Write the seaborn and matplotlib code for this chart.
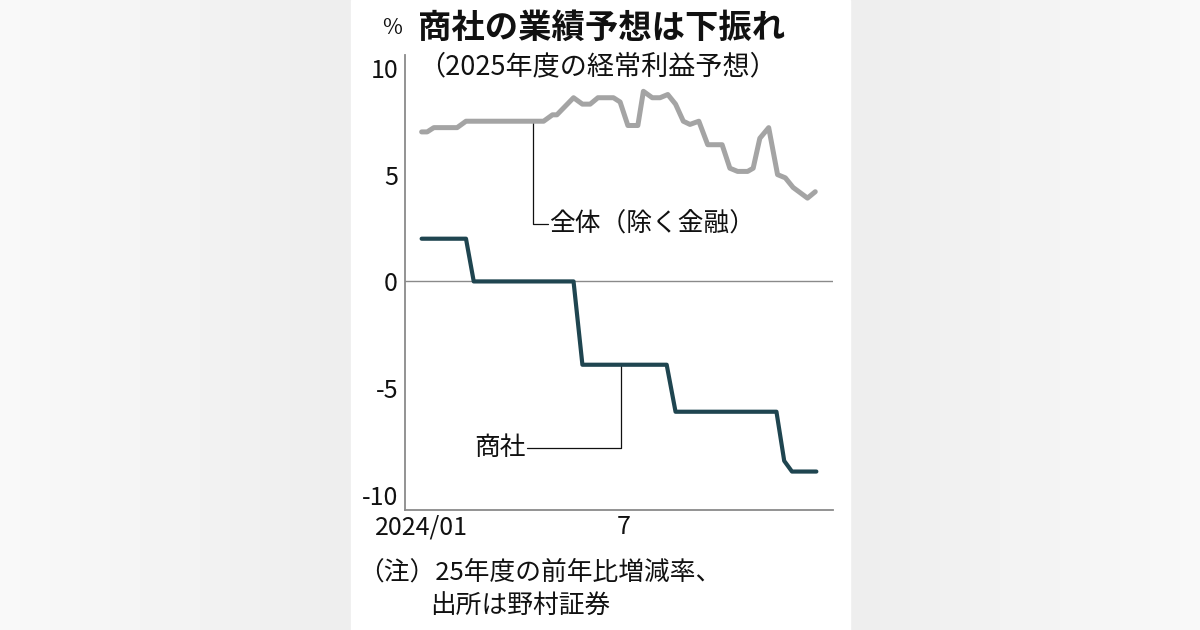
import numpy as np
import pandas as pd
import matplotlib
matplotlib.use("Agg")
import matplotlib.pyplot as plt
import seaborn as sns

# ---- data ----
total_dates = ["2024-01-01", "2024-01-06", "2024-01-12", "2024-02-02", "2024-02-10",
               "2024-04-20", "2024-04-28", "2024-05-02", "2024-05-17", "2024-05-25",
               "2024-06-01", "2024-06-08", "2024-06-22", "2024-06-28", "2024-07-05",
               "2024-07-14", "2024-07-19", "2024-07-27", "2024-08-03", "2024-08-10",
               "2024-08-17", "2024-08-24", "2024-08-30", "2024-09-07", "2024-09-15",
               "2024-09-28", "2024-10-05", "2024-10-12", "2024-10-21", "2024-10-26",
               "2024-11-01", "2024-11-09", "2024-11-17", "2024-11-24", "2024-12-01",
               "2024-12-14", "2024-12-21"]
total_values = [7.0, 7.0, 7.2, 7.2, 7.5,
                7.5, 7.8, 7.8, 8.6, 8.3,
                8.3, 8.6, 8.6, 8.4, 7.3,
                7.3, 8.9, 8.6, 8.6, 8.75,
                8.3, 7.5, 7.35, 7.5, 6.4,
                6.4, 5.3, 5.15, 5.15, 5.3,
                6.7, 7.2, 5.0, 4.85, 4.4,
                3.9, 4.2]

trading_dates = ["2024-01-01", "2024-02-10", "2024-02-17", "2024-05-17", "2024-05-25",
                 "2024-08-09", "2024-08-17", "2024-11-16", "2024-11-23", "2024-11-30",
                 "2024-12-22"]
trading_values = [2.0, 2.0, 0.0, 0.0, -3.9,
                  -3.9, -6.1, -6.1, -8.4, -8.9,
                  -8.9]

series_names = ["全体（除く金融）", "商社"]
y_ticks = [10, 5, 0, -5, -10]
x_tick_dates = ["2024-01-01", "2024-07-01"]
x_tick_labels = ["2024/01", "7"]

title = "商社の業績予想は下振れ"
subtitle = "（2025年度の経常利益予想）"
unit = "%"
note1 = "（注）25年度の前年比増減率、"
note2 = "出所は野村証券"

# ---- style ----
sns.set_theme(style="white")
plt.rcParams["font.family"] = ["Noto Sans CJK JP", "DejaVu Sans"]

W, H = 1200, 630
fig = plt.figure(figsize=(W / 100, H / 100), dpi=100)

# background gradient + white panel
bg = fig.add_axes([0, 0, 1, 1], zorder=-10)
xs = np.linspace(0, 1, 600)
grad = np.where(xs < 0.5, 0.975 - 0.045 * (xs / 0.29), 0.975 - 0.045 * ((1 - xs) / 0.29))
grad = np.clip(grad, 0.92, 0.98)
bg.imshow(np.tile(grad, (10, 1)), cmap="gray", vmin=0, vmax=1, aspect="auto",
          extent=[0, 1, 0, 1])
bg.add_patch(plt.Rectangle((351 / W, 0), (850 - 351) / W, 1, color="white", zorder=2))
bg.set_xlim(0, 1)
bg.set_ylim(0, 1)
bg.axis("off")

ax = fig.add_axes([405 / W, 1 - 510 / H, (833 - 405) / W, (510 - 55) / H])
ax.set_facecolor("none")

df_total = pd.DataFrame({"date": pd.to_datetime(total_dates), "value": total_values})
df_trade = pd.DataFrame({"date": pd.to_datetime(trading_dates), "value": trading_values})

ax.axhline(0, color="#8a8a8a", lw=1.0, zorder=1)
sns.lineplot(data=df_total, x="date", y="value", ax=ax, color="#a4a4a4", lw=3.6,
             zorder=3, legend=False)
sns.lineplot(data=df_trade, x="date", y="value", ax=ax, color="#1f4550", lw=3.0,
             zorder=3, legend=False)

ax.set_xlim(pd.Timestamp("2023-12-17"), pd.Timestamp("2025-01-06"))
ax.set_ylim(-10.7, 10.6)
ax.set_xlabel("")
ax.set_ylabel("")

ax.set_yticks(y_ticks)
ax.set_yticklabels([str(v) for v in y_ticks])
ax.set_xticks(pd.to_datetime(x_tick_dates))
ax.set_xticklabels(x_tick_labels)
ax.tick_params(axis="both", direction="in", length=5, width=1, color="#555555",
               labelsize=18, labelcolor="#111111")
ax.tick_params(axis="y", pad=5)
ax.tick_params(axis="x", pad=3)
ax.grid(False)
for s in ["top", "right"]:
    ax.spines[s].set_visible(False)
for s in ["left", "bottom"]:
    ax.spines[s].set_color("#8a8a8a")
    ax.spines[s].set_linewidth(1.3)

# leader lines and labels
lx1 = pd.Timestamp("2024-04-10")
lx1e = pd.Timestamp("2024-04-24")
ax.plot([lx1, lx1, lx1e], [7.5, 2.67, 2.67], color="#111111", lw=0.9, zorder=2)
ax.text(pd.Timestamp("2024-04-25"), 2.67, series_names[0], fontsize=18.5,
        ha="left", va="center", color="#111111")

lx2 = pd.Timestamp("2024-06-29")
lx2e = pd.Timestamp("2024-04-05")
ax.plot([lx2, lx2, lx2e], [-3.9, -7.8, -7.8], color="#111111", lw=0.9, zorder=2)
ax.text(pd.Timestamp("2024-04-04"), -7.8, series_names[1], fontsize=18.5,
        ha="right", va="center", color="#111111")

# titles and notes
fig.text(392 / W, 1 - 28 / H, unit, fontsize=15.5, ha="center", va="center", color="#111111")
fig.text(418 / W, 1 - 28 / H, title, fontsize=24, fontweight="bold",
         ha="left", va="center", color="#111111")
fig.text(418 / W, 1 - 67 / H, subtitle, fontsize=19.5, ha="left", va="center",
         color="#111111")
fig.text(358 / W, 1 - 573 / H, note1, fontsize=18.5, ha="left", va="center", color="#111111")
fig.text(430 / W, 1 - 606 / H, note2, fontsize=18.5, ha="left", va="center", color="#111111")

fig.savefig("out.png", dpi=100)
